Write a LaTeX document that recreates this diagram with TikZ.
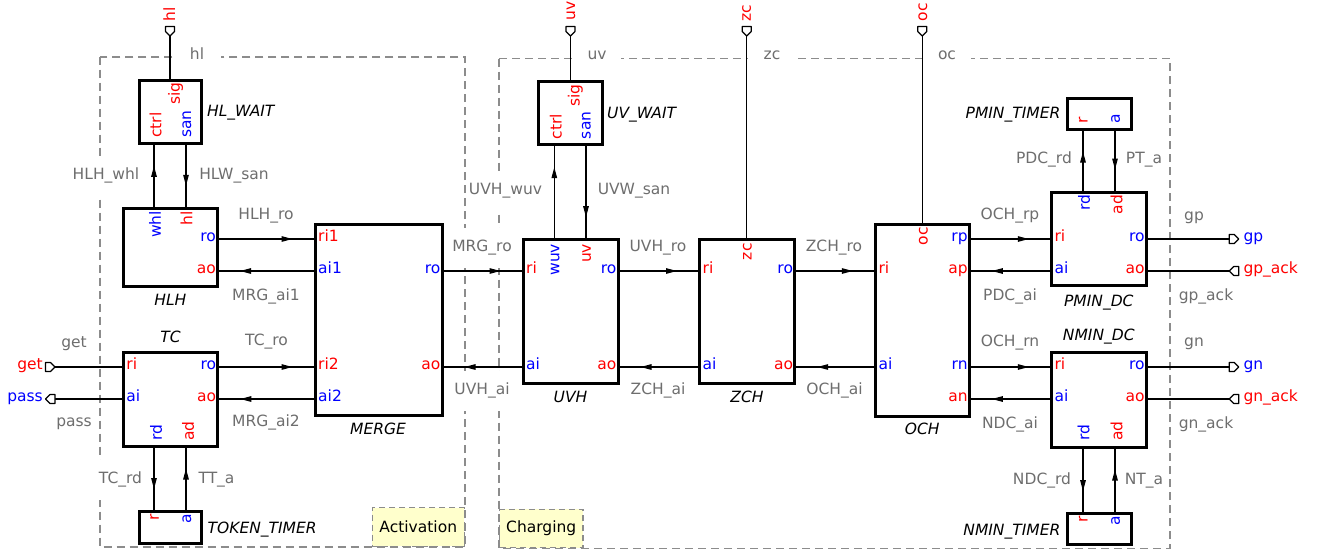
\documentclass[tikz,border=0pt]{standalone}
\usepackage{fontspec}
\setmainfont{DejaVu Sans}
\usetikzlibrary{arrows.meta,calc}
\definecolor{lbl}{HTML}{6E6E6E}
\definecolor{grp}{HTML}{8C8C8C}
\definecolor{notefill}{HTML}{FFFFCC}
\definecolor{pred}{HTML}{FF0000}
\definecolor{pblue}{HTML}{0000FF}
\tikzset{
  pics/portmark/.style={code={\draw[line width=1.2pt, line join=round, fill=white] (0,-4.5) -- (5,-4.5) -- (9.5,0) -- (5,4.5) -- (0,4.5) -- cycle;}}
}
\begin{document}
\begin{tikzpicture}[x=1pt,y=-1pt,
  every node/.style={font=\fontsize{15.5}{18}\selectfont, inner sep=0pt},
  blk/.style={draw, line width=3pt, fill=white, inner sep=0pt},
  nm/.style={font=\fontsize{15.5}{18}\selectfont\itshape, anchor=base},
  el/.style={text=lbl, fill=white, inner xsep=3pt, minimum height=40pt, text height=11pt, text depth=3.5pt},
  elw/.style={el, minimum width=48pt},
  rr/.style={text=pred},
  bb/.style={text=pblue},
  rot/.style={rotate=90},
  wire/.style={line width=1.2pt},
  fwd/.style={wire, postaction={draw, line width=1.2pt, shorten >=21pt, -{Triangle[length=11pt,width=5.5pt]}}},
  grpbox/.style={draw=grp, line width=1.6pt, dash pattern=on 8pt off 5pt},
  grpnote/.style={draw=grp, fill=notefill, line width=1.2pt, dash pattern=on 6pt off 4pt}
]
\useasboundingbox (0,0) rectangle (1317,550);

% rows and columns of ports
\coordinate (r1) at (0,239);
\coordinate (r2) at (0,271);
\coordinate (r3) at (0,367);
\coordinate (r4) at (0,399);
\coordinate (cA) at (154,0);
\coordinate (cB) at (186,0);
\coordinate (cH) at (170,0);
\coordinate (uA) at (554.3,0);
\coordinate (uB) at (586,0);
\coordinate (uH) at (570.4,0);
\coordinate (zH) at (746.7,0);
\coordinate (oH) at (922.3,0);
\coordinate (pA) at (1083,0);
\coordinate (pB) at (1115,0);

% groups
\draw[grpbox] (99.7,56.7) rectangle (465,546.7);
\draw[grpbox] (499,58.5) rectangle (1170,548.3);
\node[grpnote, minimum width=92.3pt, minimum height=38.4pt, anchor=south east] (actnote) at (465,546.7) {Activation};
\node[grpnote, minimum width=83.3pt, minimum height=38.3pt, anchor=south west] (chgnote) at (499,548.3) {Charging};

% blocks
\node[blk, minimum width=62pt, minimum height=63.3pt] (HLW) at (170,111.65) {};
\node[blk, minimum width=94.2pt, minimum height=77.7pt] (HLH) at (170.4,247.15) {};
\node[blk, minimum width=94.5pt, minimum height=94pt] (TC) at (170.5,399) {};
\node[blk, minimum width=62pt, minimum height=31.5pt] (TT) at (170,527.3) {};
\node[blk, minimum width=127pt, minimum height=191.3pt] (MRG) at (378.5,319.65) {};
\node[blk, minimum width=63.3pt, minimum height=63.4pt] (UVW) at (570.35,113) {};
\node[blk, minimum width=95pt, minimum height=143.3pt] (UVH) at (570.5,311.35) {};
\node[blk, minimum width=95.2pt, minimum height=143.3pt] (ZCH) at (747.1,311.35) {};
\node[blk, minimum width=94pt, minimum height=191.7pt] (OCH) at (922.3,320.15) {};
\node[blk, minimum width=63.7pt, minimum height=31pt] (PT) at (1099.15,113.5) {};
\node[blk, minimum width=95pt, minimum height=93.5pt] (PDC) at (1098.8,238.75) {};
\node[blk, minimum width=95pt, minimum height=95pt] (NDC) at (1098.8,399.5) {};
\node[blk, minimum width=63.7pt, minimum height=31pt] (NT) at (1099.15,529.2) {};

% channel labels
\node[el] (lHLHwhl) at (106,176) {HLH\_whl};
\node[el] (lHLWsan) at (234,176) {HLW\_san};
\node[el] (lHLHro) at (266,216) {HLH\_ro};
\node[el] (lMRGai1) at (266,297) {MRG\_ai1};
\node[el] (lget) at (74,343.5) {get};
\node[el] (lpass) at (74,423) {pass};
\node[el] (lTCro) at (266.5,342) {TC\_ro};
\node[el] (lMRGai2) at (266,423) {MRG\_ai2};
\node[el] (lTCrd) at (120.5,480) {TC\_rd};
\node[el] (lTTa) at (216.5,480) {TT\_a};
\node[elw] (lhl) at (197,55.5) {hl};
\node[el] (lMRGro) at (482,248) {MRG\_ro};
\node[el] (lUVHai) at (482,391) {UVH\_ai};
\node[elw] (luv) at (597,56) {uv};
\node[el] (lUVHwuv) at (505.5,191) {UVH\_wuv};
\node[el] (lUVWsan) at (634,191) {UVW\_san};
\node[el] (lUVHro) at (658,248) {UVH\_ro};
\node[el] (lZCHai) at (658,391) {ZCH\_ai};
\node[elw] (lzc) at (772,56) {zc};
\node[el] (lZCHro) at (834,248) {ZCH\_ro};
\node[el] (lOCHai) at (834.5,391) {OCH\_ai};
\node[elw] (loc) at (947,56) {oc};
\node[el] (lPDCrd) at (1044,160) {PDC\_rd};
\node[el] (lPTa) at (1144,160) {PT\_a};
\node[el] (lOCHrp) at (1010,215.5) {OCH\_rp};
\node[el] (lPDCai) at (1010,297) {PDC\_ai};
\node[el] (lgp) at (1194,217) {gp};
\node[el] (lgpack) at (1206,297) {gp\_ack};
\node[el] (lOCHrn) at (1010,343) {OCH\_rn};
\node[el] (lNDCai) at (1010,425) {NDC\_ai};
\node[el] (lgn) at (1194,343) {gn};
\node[el] (lgnack) at (1206,425) {gn\_ack};
\node[el] (lNDCrd) at (1042,481) {NDC\_rd};
\node[el] (lNTa) at (1144,481) {NT\_a};

% internal channels
\draw[fwd] (HLH.east |- r1) -- (MRG.west |- r1);
\draw[fwd] (MRG.west |- r2) -- (HLH.east |- r2);
\draw[fwd] (TC.east |- r3) -- (MRG.west |- r3);
\draw[fwd] (MRG.west |- r4) -- (TC.east |- r4);
\draw[fwd] (HLH.north -| cA) -- (HLW.south -| cA);
\draw[fwd] (HLW.south -| cB) -- (HLH.north -| cB);
\draw[fwd] (TC.south -| cA) -- (TT.north -| cA);
\draw[fwd] (TT.north -| cB) -- (TC.south -| cB);
\draw[fwd] (MRG.east |- r2) -- (UVH.west |- r2);
\draw[fwd] (UVH.west |- r3) -- (MRG.east |- r3);
\draw[fwd] (UVH.north -| uA) -- (UVW.south -| uA);
\draw[fwd] (UVW.south -| uB) -- (UVH.north -| uB);
\draw[fwd] (UVH.east |- r2) -- (ZCH.west |- r2);
\draw[fwd] (ZCH.west |- r3) -- (UVH.east |- r3);
\draw[fwd] (ZCH.east |- r2) -- (OCH.west |- r2);
\draw[fwd] (OCH.west |- r3) -- (ZCH.east |- r3);
\draw[fwd] (OCH.east |- r1) -- (PDC.west |- r1);
\draw[fwd] (PDC.west |- r2) -- (OCH.east |- r2);
\draw[fwd] (OCH.east |- r3) -- (NDC.west |- r3);
\draw[fwd] (NDC.west |- r4) -- (OCH.east |- r4);
\draw[fwd] (PDC.north -| pA) -- (PT.south -| pA);
\draw[fwd] (PT.south -| pB) -- (PDC.north -| pB);
\draw[fwd] (NDC.south -| pA) -- (NT.north -| pA);
\draw[fwd] (NT.north -| pB) -- (NDC.south -| pB);

% external ports
\coordinate (hlP) at (170,36);
\coordinate (uvP) at (570.4,36);
\coordinate (zcP) at (746.7,36);
\coordinate (ocP) at (922.3,36);
\coordinate (getP) at (55,367);
\coordinate (passP) at (55,399);
\coordinate (gpP) at (1229.3,239);
\coordinate (gpaP) at (1229.3,271);
\coordinate (gnP) at (1229.3,367);
\coordinate (gnaP) at (1229.3,399);
\draw[wire] (hlP) -- (HLW.north -| hlP);
\draw[wire] (uvP) -- (UVW.north -| uvP);
\draw[wire] (zcP) -- (ZCH.north -| zcP);
\draw[wire] (ocP) -- (OCH.north -| ocP);
\draw[wire] (getP) -- (TC.west |- getP);
\draw[wire] (passP) -- (TC.west |- passP);
\draw[wire] (PDC.east |- gpP) -- (gpP);
\draw[wire] (PDC.east |- gpaP) -- (gpaP);
\draw[wire] (NDC.east |- gnP) -- (gnP);
\draw[wire] (NDC.east |- gnaP) -- (gnaP);
\pic[rotate=-90] at ([yshift=9.5pt]hlP) {portmark};
\pic[rotate=-90] at ([yshift=9.5pt]uvP) {portmark};
\pic[rotate=-90] at ([yshift=9.5pt]zcP) {portmark};
\pic[rotate=-90] at ([yshift=9.5pt]ocP) {portmark};
\pic at ([xshift=-9.5pt]getP) {portmark};
\pic[rotate=180] at (passP) {portmark};
\pic at (gpP) {portmark};
\pic[rotate=180] at ([xshift=9.5pt]gpaP) {portmark};
\pic at (gnP) {portmark};
\pic[rotate=180] at ([xshift=9.5pt]gnaP) {portmark};

\node[rr, rot, anchor=west] (thl) at ($(hlP)+(-0.7,-14)$) {hl};
\node[rr, rot, anchor=west] (tuv) at ($(uvP)+(0.4,-15)$) {uv};
\node[rr, rot, anchor=west] (tzc) at ($(zcP)+(0,-14.5)$) {zc};
\node[rr, rot, anchor=west] (toc) at ($(ocP)+(0.5,-14.5)$) {oc};
\node[rr, anchor=mid east] (tget) at ($(getP)+(-12,0)$) {get};
\node[bb, anchor=mid east] (tpass) at ($(passP)+(-12,0)$) {pass};
\node[bb, anchor=mid west] (tgp) at ($(gpP)+(14,0)$) {gp};
\node[rr, anchor=mid west] (tgpa) at ($(gpaP)+(14,0)$) {gp\_ack};
\node[bb, anchor=mid west] (tgn) at ($(gnP)+(14,0)$) {gn};
\node[rr, anchor=mid west] (tgna) at ($(gnaP)+(14,0)$) {gn\_ack};

% port names, horizontal
\node[bb, anchor=mid east, xshift=-3pt] (pHLHro) at (HLH.east |- r1) {ro};
\node[rr, anchor=mid east, xshift=-3pt] (pHLHao) at (HLH.east |- r2) {ao};
\node[rr, anchor=mid west, xshift=4.5pt] (pMRGri1) at (MRG.west |- r1) {ri1};
\node[bb, anchor=mid west, xshift=4.5pt] (pMRGai1) at (MRG.west |- r2) {ai1};
\node[bb, anchor=mid east, xshift=-3pt] (pMRGro) at (MRG.east |- r2) {ro};
\node[rr, anchor=mid west, xshift=4.5pt] (pMRGri2) at (MRG.west |- r3) {ri2};
\node[bb, anchor=mid west, xshift=4.5pt] (pMRGai2) at (MRG.west |- r4) {ai2};
\node[rr, anchor=mid east, xshift=-3pt] (pMRGao) at (MRG.east |- r3) {ao};
\node[rr, anchor=mid west, xshift=4.5pt] (pTCri) at (TC.west |- r3) {ri};
\node[bb, anchor=mid west, xshift=4.5pt] (pTCai) at (TC.west |- r4) {ai};
\node[bb, anchor=mid east, xshift=-3pt] (pTCro) at (TC.east |- r3) {ro};
\node[rr, anchor=mid east, xshift=-3pt] (pTCao) at (TC.east |- r4) {ao};
\node[rr, anchor=mid west, xshift=4.5pt] (pUVHri) at (UVH.west |- r2) {ri};
\node[bb, anchor=mid east, xshift=-3pt] (pUVHro) at (UVH.east |- r2) {ro};
\node[bb, anchor=mid west, xshift=4.5pt] (pUVHai) at (UVH.west |- r3) {ai};
\node[rr, anchor=mid east, xshift=-3pt] (pUVHao) at (UVH.east |- r3) {ao};
\node[rr, anchor=mid west, xshift=4.5pt] (pZCHri) at (ZCH.west |- r2) {ri};
\node[bb, anchor=mid east, xshift=-3pt] (pZCHro) at (ZCH.east |- r2) {ro};
\node[bb, anchor=mid west, xshift=4.5pt] (pZCHai) at (ZCH.west |- r3) {ai};
\node[rr, anchor=mid east, xshift=-3pt] (pZCHao) at (ZCH.east |- r3) {ao};
\node[rr, anchor=mid west, xshift=4.5pt] (pOCHri) at (OCH.west |- r2) {ri};
\node[bb, anchor=mid east, xshift=-3pt] (pOCHrp) at (OCH.east |- r1) {rp};
\node[rr, anchor=mid east, xshift=-3pt] (pOCHap) at (OCH.east |- r2) {ap};
\node[bb, anchor=mid west, xshift=4.5pt] (pOCHai) at (OCH.west |- r3) {ai};
\node[bb, anchor=mid east, xshift=-3pt] (pOCHrn) at (OCH.east |- r3) {rn};
\node[rr, anchor=mid east, xshift=-3pt] (pOCHan) at (OCH.east |- r4) {an};
\node[rr, anchor=mid west, xshift=4.5pt] (pPDCri) at (PDC.west |- r1) {ri};
\node[bb, anchor=mid west, xshift=4.5pt] (pPDCai) at (PDC.west |- r2) {ai};
\node[bb, anchor=mid east, xshift=-3pt] (pPDCro) at (PDC.east |- r1) {ro};
\node[rr, anchor=mid east, xshift=-3pt] (pPDCao) at (PDC.east |- r2) {ao};
\node[rr, anchor=mid west, xshift=4.5pt] (pNDCri) at (NDC.west |- r3) {ri};
\node[bb, anchor=mid west, xshift=4.5pt] (pNDCai) at (NDC.west |- r4) {ai};
\node[bb, anchor=mid east, xshift=-3pt] (pNDCro) at (NDC.east |- r3) {ro};
\node[rr, anchor=mid east, xshift=-3pt] (pNDCao) at (NDC.east |- r4) {ao};

% port names, vertical
\node[rr, rot, anchor=west] (pHLWctrl) at ($(HLW.south -| cA)+(1.5,-7)$) {ctrl};
\node[bb, rot, anchor=west] (pHLWsan) at ($(HLW.south -| cB)+(1,-7)$) {san};
\node[rr, rot, anchor=east] (pHLWsig) at ($(HLW.north -| cH)+(5.5,3.5)$) {sig};
\node[bb, rot, anchor=east] (pHLHwhl) at ($(HLH.north -| cA)+(1,4)$) {whl};
\node[rr, rot, anchor=east] (pHLHhl) at ($(HLH.north -| cB)+(0.5,4)$) {hl};
\node[bb, rot, anchor=west] (pTCrd) at ($(TC.south -| cA)+(2,-6.5)$) {rd};
\node[rr, rot, anchor=west] (pTCad) at ($(TC.south -| cB)+(2,-6.5)$) {ad};
\node[rr, rot, anchor=east] (pTTr) at ($(TT.north -| cA)+(0.5,3.5)$) {r};
\node[bb, rot, anchor=east] (pTTa) at ($(TT.north -| cB)+(1,3.5)$) {a};
\node[rr, rot, anchor=west] (pUVWctrl) at ($(UVW.south -| uA)+(1.5,-7)$) {ctrl};
\node[bb, rot, anchor=west] (pUVWsan) at ($(UVW.south -| uB)+(0.5,-7)$) {san};
\node[rr, rot, anchor=east] (pUVWsig) at ($(UVW.north -| uH)+(5,4.5)$) {sig};
\node[bb, rot, anchor=east] (pUVHwuv) at ($(UVH.north -| uA)+(0.8,5.5)$) {wuv};
\node[rr, rot, anchor=east] (pUVHuv) at ($(UVH.north -| uB)+(0.7,5.5)$) {uv};
\node[rr, rot, anchor=east] (pZCHzc) at ($(ZCH.north -| zH)+(0.8,5)$) {zc};
\node[rr, rot, anchor=east] (pOCHoc) at ($(OCH.north -| oH)+(1,4)$) {oc};
\node[rr, rot, anchor=west] (pPTr) at ($(PT.south -| pA)+(0.3,-6.5)$) {r};
\node[bb, rot, anchor=west] (pPTa) at ($(PT.south -| pB)+(0.7,-6.5)$) {a};
\node[bb, rot, anchor=east] (pPDCrd) at ($(PDC.north -| pA)+(1,4)$) {rd};
\node[rr, rot, anchor=east] (pPDCad) at ($(PDC.north -| pB)+(1.5,4)$) {ad};
\node[bb, rot, anchor=west] (pNDCrd) at ($(NDC.south -| pA)+(0.7,-7.5)$) {rd};
\node[rr, rot, anchor=west] (pNDCad) at ($(NDC.south -| pB)+(1.5,-7.5)$) {ad};
\node[rr, rot, anchor=east] (pNTr) at ($(NT.north -| pA)+(0.3,3.5)$) {r};
\node[bb, rot, anchor=east] (pNTa) at ($(NT.north -| pB)+(0.7,3.5)$) {a};

% block names
\node[nm, anchor=base west] (nHLW) at (207,116) {HL\_WAIT};
\node[nm] (nHLH) at (170.4,305.5) {HLH};
\node[nm] (nTC) at (170.5,342) {TC};
\node[nm, anchor=base west] (nTT) at (207.5,533) {TOKEN\_TIMER};
\node[nm] (nMRG) at (378,434) {MERGE};
\node[nm, anchor=base west] (nUVW) at (607,118.5) {UV\_WAIT};
\node[nm] (nUVH) at (570.5,402) {UVH};
\node[nm] (nZCH) at (747,402) {ZCH};
\node[nm] (nOCH) at (922.3,434) {OCH};
\node[nm, anchor=base east] (nPT) at (1060.5,118.5) {PMIN\_TIMER};
\node[nm] (nPDC) at (1098.8,306.5) {PMIN\_DC};
\node[nm] (nNDC) at (1098.8,340) {NMIN\_DC};
\node[nm, anchor=base east] (nNT) at (1060.5,535) {NMIN\_TIMER};
\end{tikzpicture}
\end{document}
